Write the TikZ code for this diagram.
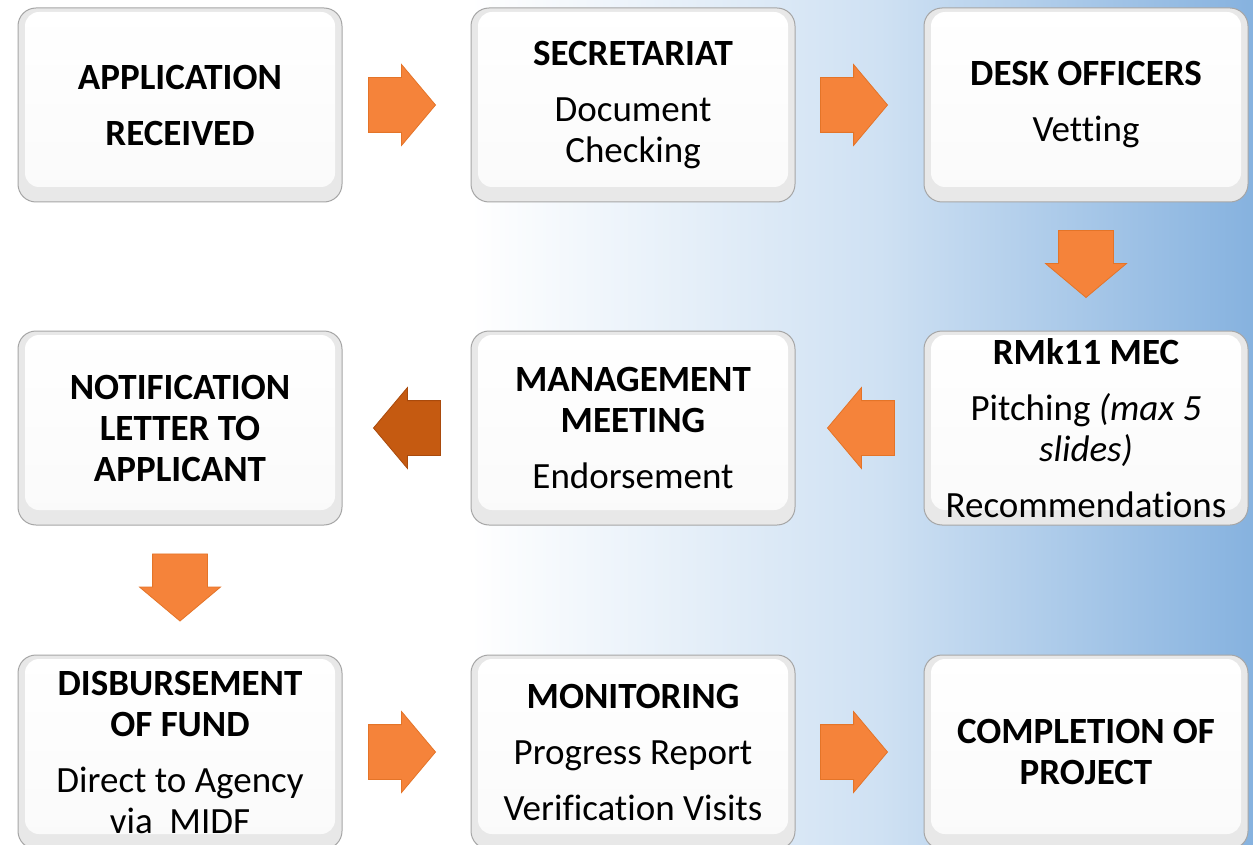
\documentclass[tikz,border=0pt]{standalone}
\usepackage{fontspec}
\setmainfont{Carlito}[Ligatures={NoCommon,NoContextual}]
\usetikzlibrary{shapes.arrows,calc}
\definecolor{bgmid}{HTML}{CFE1F3}
\definecolor{bgblue}{HTML}{86B2DF}
\definecolor{arrowor}{HTML}{F5833A}
\definecolor{arrowedge}{HTML}{E47428}
\definecolor{arrowdark}{HTML}{C55A11}
\definecolor{arrowdarkedge}{HTML}{A94A0C}
\definecolor{boxedge}{HTML}{A6A6A6}
\tikzset{
  stagebox/.style={rounded corners=18pt, draw=boxedge, line width=1pt,
    minimum width=324pt, minimum height=194pt, inner sep=0pt, align=center,
    font=\fontsize{37}{41}\selectfont, fill=gray!18,
    path picture={
      \shade[top color=white, bottom color=gray!4, rounded corners=14pt]
        ([xshift=7pt,yshift=15pt]path picture bounding box.south west)
        rectangle ([xshift=-7pt,yshift=-4pt]path picture bounding box.north east);
    }},
  blockarrow/.style={single arrow, fill=arrowor, draw=arrowedge, line width=0.8pt,
    minimum height=67pt, minimum width=80pt, single arrow head extend=13pt,
    single arrow tip angle=100, inner xsep=0pt, inner ysep=27pt},
  darkarrow/.style={blockarrow, fill=arrowdark, draw=arrowdarkedge}
}
\begin{document}
\begin{tikzpicture}[x=1pt,y=-1pt]
\useasboundingbox (0,0) rectangle (1253,845);
% background
\fill[white] (0,0) rectangle (1253,845);
\shade[left color=white, right color=bgmid] (470,0) rectangle (880,845);
\shade[left color=bgmid, right color=bgblue] (879.5,0) rectangle (1253,845);
% stages
\node[stagebox] (app) at (180,105) {\textbf{APPLICATION}\\[15pt]\textbf{RECEIVED}};
\node[stagebox] (sec) at (633,105) {\textbf{SECRETARIAT}\\[15pt]Document\\Checking};
\node[stagebox] (desk) at (1086,105) {\textbf{DESK OFFICERS}\\[15pt]Vetting};
\node[stagebox] (mec) at (1086,428) {\textbf{RMk11 MEC}\\[15pt]Pitching \textit{(max 5}\\\textit{slides)}\\[15pt]Recommendations};
\node[stagebox] (mgmt) at (633,428) {\textbf{MANAGEMENT}\\\textbf{MEETING}\\[15pt]Endorsement};
\node[stagebox] (notif) at (180,428) {\textbf{NOTIFICATION}\\\textbf{LETTER TO}\\\textbf{APPLICANT}};
\node[stagebox] (disb) at (180,752) {\textbf{DISBURSEMENT}\\\textbf{OF FUND}\\[15pt]Direct to Agency\\via~~MIDF};
\node[stagebox] (mon) at (633,752) {\textbf{MONITORING}\\[15pt]Progress Report\\[15pt]Verification Visits};
\node[stagebox] (comp) at (1086,752) {\textbf{COMPLETION OF}\\\textbf{PROJECT}};
% arrows
\node[blockarrow] (a1) at ($(app.east)!0.5!(sec.west)+(-16,0)$) {};
\node[blockarrow] (a2) at ($(sec.east)!0.5!(desk.west)+(-17,0)$) {};
\node[blockarrow, rotate=-90] (a3) at ($(desk.south)!0.5!(mec.north)+(0,-14)$) {};
\node[blockarrow, rotate=180] (a4) at ($(mec.west)!0.5!(mgmt.east)+(13,0)$) {};
\node[darkarrow, rotate=180] (a5) at ($(mgmt.west)!0.5!(notif.east)+(12,0)$) {};
\node[blockarrow, rotate=-90] (a6) at ($(notif.south)!0.5!(disb.north)+(0,-14)$) {};
\node[blockarrow] (a7) at ($(disb.east)!0.5!(mon.west)+(-16,0)$) {};
\node[blockarrow] (a8) at ($(mon.east)!0.5!(comp.west)+(-17,0)$) {};
\end{tikzpicture}
\end{document}
